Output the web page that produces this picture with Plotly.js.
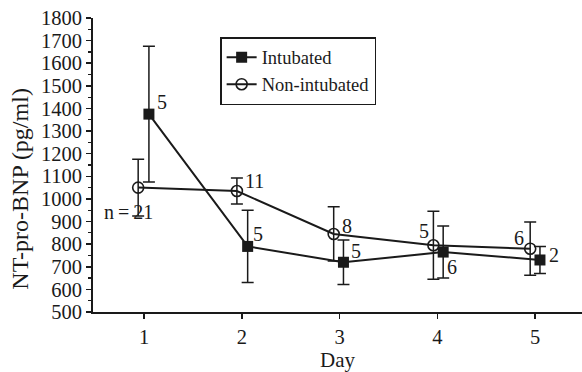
<!DOCTYPE html>
<html>
<head>
<meta charset="utf-8">
<script src="https://cdn.plot.ly/plotly-3.0.1.min.js"></script>
<style>html,body{margin:0;padding:0;background:#fff;}#chart{width:582px;height:372px;}</style>
</head>
<body>
<div id="chart"></div>
<script>
const days = [1, 2, 3, 4, 5];
const intubatedX = [1.05, 2.06, 3.04, 4.06, 5.05];
const nonIntubatedX = [0.94, 1.95, 2.94, 3.96, 4.95];
const intubatedMean = [1375, 790, 720, 765, 730];
const intubatedErr = [300, 160, 98, 115, 60];
const intubatedN = [5, 5, 5, 6, 2];
const nonIntubatedMean = [1050, 1035, 845, 795, 780];
const nonIntubatedErr = [125, 58, 120, 150, 118];
const nonIntubatedN = [21, 11, 8, 5, 6];
const yTicks = [500, 600, 700, 800, 900, 1000, 1100, 1200, 1300, 1400, 1500, 1600, 1700, 1800];
const yTitle = 'NT-pro-BNP (pg/ml)';
const xTitle = 'Day';

// label offsets in pixels (style only)
const intubatedShift = [[13, 12], [10, 12], [13, 11], [9, -15], [14, 5]];
const nonIntubatedShift = [[-10, -24], [18, 10], [13, 8], [-9, 14], [-11, 11]];

const serif = 'Liberation Serif, Times New Roman, serif';
const ink = '#1a1a1a';
const nonText = nonIntubatedN.map((n, i) => i === 0 ? 'n\u2009=\u2009' + n : String(n));

const traces = [
  {
    name: 'Non-intubated', x: nonIntubatedX, y: nonIntubatedMean,
    mode: 'lines+markers', legendrank: 2,
    line: {color: ink, width: 2},
    marker: {symbol: 'circle-open', size: 11, color: ink, line: {width: 1.6, color: ink}},
    error_y: {type: 'data', array: nonIntubatedErr, visible: true, color: ink, thickness: 1.5, width: 6}
  },
  {
    name: 'Intubated', x: intubatedX, y: intubatedMean,
    mode: 'lines+markers', legendrank: 1,
    line: {color: ink, width: 2},
    marker: {symbol: 'square', size: 11, color: ink},
    error_y: {type: 'data', array: intubatedErr, visible: true, color: ink, thickness: 1.5, width: 6}
  }
];

const annotations = [];
intubatedN.forEach((n, i) => annotations.push({
  x: intubatedX[i], y: intubatedMean[i], text: String(n), showarrow: false,
  xshift: intubatedShift[i][0], yshift: intubatedShift[i][1],
  font: {family: serif, size: 20, color: ink}
}));
nonIntubatedN.forEach((n, i) => annotations.push({
  x: nonIntubatedX[i], y: nonIntubatedMean[i], text: nonText[i], showarrow: false,
  xshift: nonIntubatedShift[i][0], yshift: nonIntubatedShift[i][1],
  font: {family: serif, size: 20, color: ink}
}));
annotations.push({
  xref: 'paper', yref: 'paper', x: -0.151, y: 0.42, xanchor: 'center', yanchor: 'middle',
  text: yTitle, textangle: -90, showarrow: false,
  font: {family: serif, size: 24, color: ink}
});

const layout = {
  width: 582, height: 372,
  margin: {l: 93, r: 0, t: 18, b: 60},
  paper_bgcolor: '#fff', plot_bgcolor: '#fff',
  font: {family: serif, size: 20, color: ink},
  showlegend: true,
  annotations: annotations,
  legend: {x: 0.26, y: 0.935, xanchor: 'left', yanchor: 'top', bordercolor: ink, borderwidth: 1.5,
           bgcolor: '#fff', font: {family: serif, size: 18.5, color: ink}, tracegroupgap: 0, itemwidth: 30},
  xaxis: {
    range: [0.478, 5.48], tickvals: days, ticktext: days.map(String),
    showgrid: false, zeroline: false, showline: true, linecolor: ink, linewidth: 2,
    ticks: 'outside', ticklen: 5, tickwidth: 1.5, tickcolor: ink,
    tickfont: {family: serif, size: 20.5, color: ink},
    title: {text: xTitle, font: {family: serif, size: 21, color: ink}, standoff: 5}
  },
  yaxis: {
    range: [500, 1800], tickvals: yTicks, ticktext: yTicks.map(String),
    showgrid: false, zeroline: false, showline: true, linecolor: ink, linewidth: 2,
    ticks: 'outside', ticklen: 5, tickwidth: 1.5, tickcolor: ink,
    tickfont: {family: serif, size: 20.5, color: ink},
    minor: {dtick: 50, ticks: 'outside', ticklen: 3, tickcolor: ink, tickwidth: 1.2}
  }
};

Plotly.newPlot('chart', traces, layout, {displayModeBar: false, staticPlot: true});
</script>
</body>
</html>
